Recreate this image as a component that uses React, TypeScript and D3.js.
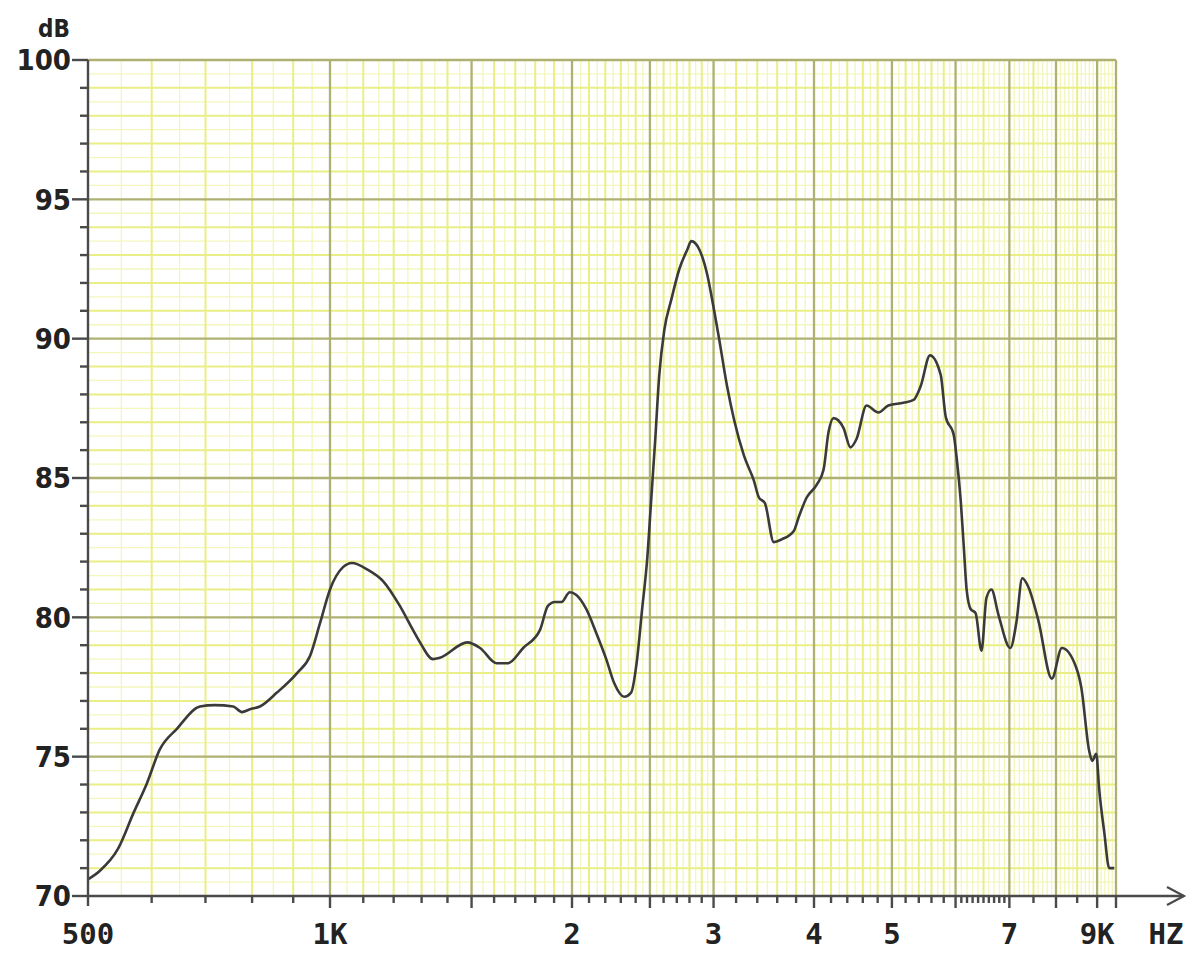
import * as d3 from 'd3';

// response curve (Hz, dB)
const FREQ_HZ = [
  500, 517, 545, 570, 592, 614, 645, 689, 719, 758, 777, 795, 818, 859, 910, 944,
  972, 1000, 1038, 1065, 1115, 1164, 1222, 1268, 1294, 1343, 1370, 1482, 1537, 1612,
  1664, 1739, 1825, 1866, 1904, 1941, 1987, 2025, 2083, 2143, 2206, 2256, 2322, 2369,
  2410, 2445, 2480, 2509, 2538, 2568, 2605, 2658, 2720, 2783, 2815, 2880, 2946, 2988,
  3048, 3118, 3181, 3273, 3368, 3416, 3475, 3565, 3647, 3775, 3829, 3917, 4030, 4111,
  4170, 4230, 4352, 4440, 4518, 4650, 4810, 4949, 5166, 5320, 5430, 5576, 5750, 5833,
  5968, 6020, 6089, 6141, 6193, 6264, 6354, 6463, 6555, 6649, 6783, 7019, 7140, 7263,
  7389, 7604, 7905, 8135, 8476, 8599, 8799, 8875, 8977, 9055, 9185, 9317, 9451,
];
const LEVEL_DB = [
  70.6, 70.9, 71.7, 73.0, 74.05, 75.25, 76.0, 76.8, 76.85, 76.8, 76.6, 76.7, 76.8, 77.3, 78.0, 78.6,
  79.8, 81.0, 81.8, 81.95, 81.7, 81.3, 80.4, 79.55, 79.1, 78.5, 78.55, 79.1, 78.9, 78.35,
  78.35, 78.9, 79.55, 80.4, 80.55, 80.55, 80.9, 80.8, 80.3, 79.45, 78.5, 77.65, 77.15, 77.3,
  78.5, 80.3, 82.05, 84.2, 86.35, 88.7, 90.3, 91.4, 92.5, 93.2, 93.5, 93.2, 92.3, 91.4,
  90.0, 88.3, 87.1, 85.8, 84.9, 84.3, 84.1, 82.7, 82.8, 83.1, 83.6, 84.3, 84.75, 85.3,
  86.65, 87.15, 86.8, 86.1, 86.4, 87.6, 87.35, 87.6, 87.7, 87.8, 88.3, 89.4, 88.7, 87.2,
  86.55, 85.7, 84.2, 82.6, 81.0, 80.3, 80.15, 78.8, 80.7, 81.0, 80.1, 78.9, 79.8, 81.4,
  81.1, 79.9, 77.8, 78.9, 78.2, 77.5, 75.2, 74.85, 75.1, 73.8, 72.3, 71.0, 71.0,
];

const DB_LABELS = [70, 75, 80, 85, 90, 95, 100];
const X_LABEL_HZ = [500, 1000, 2000, 3000, 4000, 5000, 7000, 9000];
const X_LABELS = ['500', '1K', '2', '3', '4', '5', '7', '9K'];
const GRID_MAJOR_HZ = [1000, 1500, 2000, 2500, 3000, 4000, 5000, 6000, 7000, 8000, 9000, 9500];

const W = 1200;
const H = 966;
const PLOT = { left: 88, right: 1116, top: 60, bottom: 896 };

const MAJOR = '#aeb171';
const YELLOW = '#e9ef86';
const FINE = '#f3f6bd';
const AXIS = '#4a4a4a';

// values strictly between from and to, every step
function steps(from: number, to: number, step: number) {
  return d3.range(from + step, to - step / 2, step).map((v) => Math.round(v));
}

export default function App() {
  const x = d3.scaleLog().domain([500, 9500]).range([PLOT.left, PLOT.right]);
  const y = d3.scaleLinear().domain([70, 100]).range([PLOT.bottom, PLOT.top]);

  const majorSet = new Set([500, ...GRID_MAJOR_HZ]);
  const yellowHz = [
    ...steps(500, 1000, 100),
    ...steps(1000, 3000, 100),
    ...steps(3000, 6000, 200),
    ...steps(6000, 9500, 500),
  ].filter((f) => !majorSet.has(f));
  const yellowSet = new Set(yellowHz);
  const fineHz = [
    ...steps(500, 1000, 50),
    ...steps(1000, 3000, 50),
    ...steps(3000, 9500, 100),
  ].filter((f) => !majorSet.has(f) && !yellowSet.has(f));

  const dbYellow = d3.range(71, 100, 1).filter((d) => d % 5 !== 0);
  const dbFine = d3.range(70.5, 100, 1);

  const tickMinorHz = [
    ...steps(500, 1000, 100),
    ...steps(1000, 3000, 100),
    ...steps(3000, 6000, 200),
    ...steps(6000, 7000, 100),
    ...steps(7000, 9000, 500),
  ].filter((f) => !majorSet.has(f));

  const line = d3
    .line<number>()
    .x((_, i) => x(FREQ_HZ[i]))
    .y((d) => y(d))
    .curve(d3.curveMonotoneX);

  const labelFont = "'DejaVu Sans Condensed', 'DejaVu Sans', sans-serif";
  const monoFont = "'DejaVu Sans Mono', monospace";

  return (
    <svg
      width={W}
      height={H}
      style={{ position: 'absolute', left: 0, top: 0, background: '#fff' }}
    >
      {/* fine grid */}
      <g stroke={FINE} strokeWidth={1.3}>
        {fineHz.map((f) => (
          <line key={'fv' + f} x1={x(f)} x2={x(f)} y1={PLOT.top} y2={PLOT.bottom} />
        ))}
        {dbFine.map((d) => (
          <line key={'fh' + d} x1={PLOT.left} x2={PLOT.right} y1={y(d)} y2={y(d)} />
        ))}
      </g>
      {/* yellow grid */}
      <g stroke={YELLOW} strokeWidth={2}>
        {yellowHz.map((f) => (
          <line key={'yv' + f} x1={x(f)} x2={x(f)} y1={PLOT.top} y2={PLOT.bottom} />
        ))}
        {dbYellow.map((d) => (
          <line key={'yh' + d} x1={PLOT.left} x2={PLOT.right} y1={y(d)} y2={y(d)} />
        ))}
      </g>
      {/* major grid */}
      <g stroke={MAJOR} strokeWidth={2.3}>
        {GRID_MAJOR_HZ.map((f) => (
          <line key={'mv' + f} x1={x(f)} x2={x(f)} y1={PLOT.top} y2={PLOT.bottom} />
        ))}
        {DB_LABELS.filter((d) => d > 70).map((d) => (
          <line key={'mh' + d} x1={PLOT.left} x2={PLOT.right} y1={y(d)} y2={y(d)} />
        ))}
      </g>

      {/* response curve */}
      <path
        d={line(LEVEL_DB) ?? ''}
        fill="none"
        stroke="#3a3a3a"
        strokeWidth={2.6}
        strokeLinejoin="round"
      />

      {/* axes */}
      <g stroke={AXIS} strokeWidth={2.4} fill="none">
        <line x1={PLOT.left} x2={PLOT.left} y1={PLOT.top} y2={PLOT.bottom + 10} />
        <line x1={PLOT.left} x2={1184} y1={PLOT.bottom} y2={PLOT.bottom} />
        <polyline points="1167,887 1184,896 1167,905" strokeWidth={2.2} />
        {dbYellow.map((d) => (
          <line key={'yt' + d} x1={PLOT.left - 8} x2={PLOT.left} y1={y(d)} y2={y(d)} />
        ))}
        {DB_LABELS.map((d) => (
          <line key={'yT' + d} x1={PLOT.left - 16} x2={PLOT.left} y1={y(d)} y2={y(d)} />
        ))}
        {tickMinorHz.map((f) => (
          <line key={'xt' + f} x1={x(f)} x2={x(f)} y1={PLOT.bottom} y2={PLOT.bottom + 7} />
        ))}
        {GRID_MAJOR_HZ.map((f) => (
          <line key={'xT' + f} x1={x(f)} x2={x(f)} y1={PLOT.bottom} y2={PLOT.bottom + 12} />
        ))}
      </g>

      {/* y labels */}
      <g fill="#222" fontFamily={labelFont} fontWeight="bold" fontSize={29} textAnchor="end">
        {DB_LABELS.map((d) => (
          <text key={'yl' + d} x={PLOT.left - 17} y={y(d)} dy="0.36em" style={{ fontStretch: 'condensed' }}>
            {d}
          </text>
        ))}
        <text x={70} y={37} fontSize={24} style={{ fontStretch: 'condensed' }}>
          dB
        </text>
      </g>

      {/* x labels */}
      <g fill="#222" fontFamily={monoFont} fontWeight="bold" fontSize={29} textAnchor="middle">
        {X_LABEL_HZ.map((f, i) => (
          <text key={'xl' + f} x={x(f)} y={944}>
            {X_LABELS[i]}
          </text>
        ))}
        <text x={1166} y={944}>HZ</text>
      </g>
    </svg>
  );
}
